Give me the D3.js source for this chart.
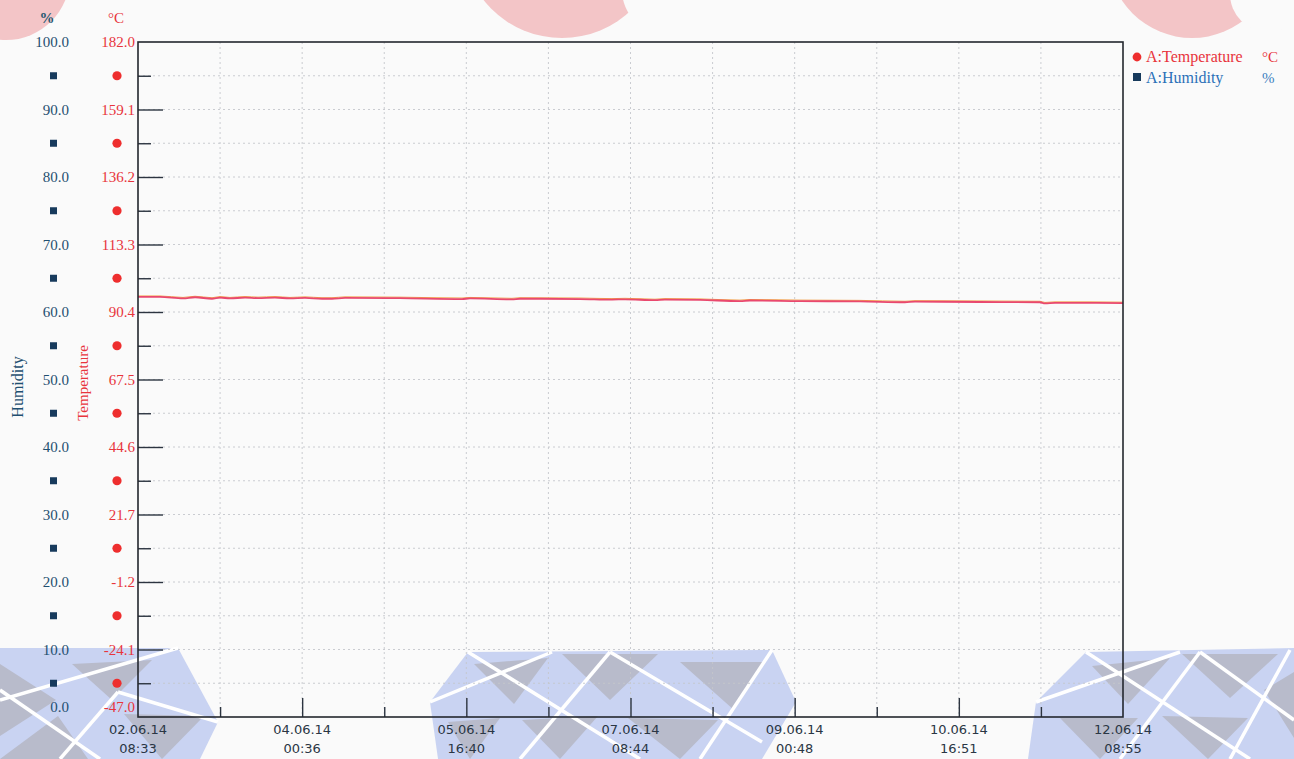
<!DOCTYPE html>
<html>
<head>
<meta charset="utf-8">
<script src="https://cdn.jsdelivr.net/npm/d3@7"></script>
<style>
  body { margin: 0; background: #fafafa; }
  svg { display: block; }
</style>
</head>
<body>
<svg id="chart" width="1294" height="759"></svg>
<script>
// logger readings (time, temperature in °C)
var times = [
	'2014-06-02 08:33', '2014-06-02 13:55', '2014-06-02 19:32', '2014-06-02 22:28',
	'2014-06-03 02:36', '2014-06-03 04:34', '2014-06-03 07:00', '2014-06-03 10:40',
	'2014-06-03 13:50', '2014-06-03 17:59', '2014-06-03 21:39', '2014-06-04 01:18',
	'2014-06-04 05:27', '2014-06-04 07:53', '2014-06-04 11:04', '2014-06-05 00:29',
	'2014-06-05 15:37', '2014-06-05 17:34', '2014-06-06 03:49', '2014-06-06 05:46',
	'2014-06-06 20:25', '2014-06-07 04:13', '2014-06-07 07:24', '2014-06-07 14:43',
	'2014-06-07 17:09', '2014-06-08 01:42', '2014-06-08 11:27', '2014-06-08 13:54',
	'2014-06-09 02:06', '2014-06-09 16:44', '2014-06-10 03:43', '2014-06-10 06:10',
	'2014-06-10 22:02', '2014-06-11 12:40', '2014-06-11 13:53', '2014-06-11 16:20',
	'2014-06-12 00:52', '2014-06-12 08:55'
];
var temperature = [
	95.5, 95.5, 95.0, 95.4, 94.9, 95.3, 95.0, 95.3,
	95.1, 95.3, 95.0, 95.2, 94.9, 94.9, 95.2, 95.1,
	94.8, 95.0, 94.7, 94.9, 94.8, 94.6, 94.7, 94.4,
	94.6, 94.5, 94.1, 94.3, 94.1, 94.0, 93.7, 93.9,
	93.8, 93.7, 93.3, 93.5, 93.5, 93.4
];
var time_start = '2014-06-02 08:33:00';
var time_end = '2014-06-12 08:55:30';
var hum_domain = [0, 100];
var temp_domain = [-47, 182];
var legend_items = [
	{ name: 'A:Temperature', unit: '°C' },
	{ name: 'A:Humidity', unit: '%' }
];

var plot = { left: 138, right: 1123, top: 42, bottom: 717 };
var parseTime = d3.timeParse('%Y-%m-%d %H:%M');
var parseFull = d3.timeParse('%Y-%m-%d %H:%M:%S');
var serif = '"Liberation Serif", "Times New Roman", serif';
var sans = '"DejaVu Sans", Verdana, sans-serif';
var hum_col = '#1f4f70', temp_col = '#e8343c';

var svg = d3.select('#chart');

// ---- scanned watermark in the background ----
var deco = svg.append('g').attr('class', 'watermark');
var pink = '#f3c5c7';
deco.append('circle').attr('cx', 6).attr('cy', -24).attr('r', 64).style('fill', pink);
deco.append('circle').attr('cx', 562).attr('cy', -62).attr('r', 100).style('fill', pink);
deco.append('circle').attr('cx', 666).attr('cy', -10).attr('r', 44).style('fill', '#fafafa');
deco.append('circle').attr('cx', 1192).attr('cy', -46).attr('r', 84).style('fill', pink);
deco.append('circle').attr('cx', 1268).attr('cy', -6).attr('r', 38).style('fill', '#fafafa');

var blue_polys = [
	[[0, 648], [178, 648], [218, 722], [200, 759], [0, 759]],
	[[430, 702], [468, 652], [772, 650], [796, 702], [762, 759], [438, 759]],
	[[1036, 702], [1086, 652], [1294, 648], [1294, 759], [1028, 759]]
];
var gray_polys = [
	[[0, 664], [56, 700], [0, 736]], [[72, 664], [152, 660], [112, 700]],
	[[124, 714], [204, 716], [162, 759]], [[0, 759], [58, 716], [88, 759]],
	[[474, 664], [548, 658], [514, 704]], [[562, 654], [658, 654], [610, 700]],
	[[680, 662], [764, 662], [734, 710]], [[448, 722], [500, 718], [470, 759]],
	[[522, 720], [598, 716], [560, 759]], [[628, 718], [718, 720], [680, 759]],
	[[1092, 666], [1170, 658], [1128, 704]], [[1182, 654], [1278, 654], [1230, 698]],
	[[1060, 718], [1138, 718], [1100, 759]], [[1162, 716], [1248, 718], [1208, 759]],
	[[1264, 690], [1294, 672], [1294, 738]]
];
var white_lines = [
	[[0, 700], [178, 648]], [[60, 759], [118, 692]], [[118, 692], [218, 722]],
	[[0, 690], [100, 759]], [[430, 702], [552, 652]], [[520, 759], [610, 652]],
	[[468, 652], [640, 759]], [[610, 652], [762, 742]], [[700, 759], [772, 650]],
	[[1036, 702], [1180, 652]], [[1120, 759], [1200, 652]], [[1086, 652], [1250, 759]],
	[[1200, 652], [1294, 720]], [[1230, 759], [1290, 650]]
];
deco.selectAll('.wm-blue').data(blue_polys).enter().append('polygon')
	.attr('class', 'wm-blue')
	.attr('points', d => d.join(' '))
	.style('fill', '#c9d3f2');
deco.selectAll('.wm-gray').data(gray_polys).enter().append('polygon')
	.attr('class', 'wm-gray')
	.attr('points', d => d.join(' '))
	.style('fill', '#b8bbcb');
deco.selectAll('.wm-line').data(white_lines).enter().append('line')
	.attr('class', 'wm-line')
	.attr('x1', d => d[0][0]).attr('y1', d => d[0][1])
	.attr('x2', d => d[1][0]).attr('y2', d => d[1][1])
	.style('stroke', '#ffffff').style('stroke-width', 3.5);

// ---- scales ----
var x = d3.scaleTime()
	.domain([parseFull(time_start), parseFull(time_end)])
	.range([plot.left, plot.right]);
var yHum = d3.scaleLinear().domain(hum_domain).range([plot.bottom, plot.top]);
var yTemp = d3.scaleLinear().domain(temp_domain).range([plot.bottom, plot.top]);

var t0 = x.domain()[0].getTime(), t1 = x.domain()[1].getTime();
var xTicks = d3.range(13).map(i => new Date(t0 + i * (t1 - t0) / 12));
var humMajor = d3.range(0, 101, 10);
var humMinor = d3.range(5, 100, 10);
var humAll = d3.range(5, 100, 5);
var tempMajor = humMajor.map(h => yTemp.invert(yHum(h)));

// ---- grid ----
var grid = svg.append('g').attr('class', 'grid');
grid.selectAll('.hgrid').data(humAll).enter().append('line')
	.attr('class', 'hgrid')
	.attr('x1', plot.left).attr('x2', plot.right)
	.attr('y1', d => yHum(d)).attr('y2', d => yHum(d))
	.style('stroke', '#c4c6cc').style('stroke-width', 0.9)
	.style('stroke-dasharray', '2,3');
grid.selectAll('.vgrid').data(xTicks.slice(1, -1)).enter().append('line')
	.attr('class', 'vgrid')
	.attr('x1', d => x(d)).attr('x2', d => x(d))
	.attr('y1', plot.top).attr('y2', plot.bottom)
	.style('stroke', '#c4c6cc').style('stroke-width', 0.9)
	.style('stroke-dasharray', '2,3');

// ---- inner ticks ----
var tickG = svg.append('g').attr('transform', 'translate(' + plot.left + ',0)');
tickG.call(d3.axisRight(yHum).tickValues(humMajor.slice(1, -1)).tickSize(25).tickFormat(''));
tickG.append('g').call(d3.axisRight(yHum).tickValues(humMinor).tickSize(13).tickFormat(''));
tickG.selectAll('.domain').remove();
tickG.selectAll('line').style('stroke', '#2c3440').style('stroke-width', 1.4);

var xTickG = svg.append('g').attr('transform', 'translate(0,' + plot.bottom + ')');
xTickG.call(d3.axisTop(x).tickValues(xTicks.filter((d, i) => i % 2 === 0 && i > 0 && i < 12)).tickSize(19).tickFormat(''));
xTickG.append('g').call(d3.axisTop(x).tickValues(xTicks.filter((d, i) => i % 2 === 1)).tickSize(10).tickFormat(''));
xTickG.selectAll('.domain').remove();
xTickG.selectAll('line').style('stroke', '#2c3440').style('stroke-width', 1.4);

// ---- series ----
var tempData = times.map((t, i) => ({ time: parseTime(t), value: temperature[i] }));
var line = d3.line().x(d => x(d.time)).y(d => yTemp(d.value)).curve(d3.curveMonotoneX);
svg.append('path')
	.datum(tempData)
	.attr('d', line)
	.style('fill', 'none')
	.style('stroke', '#f2a04a')
	.style('stroke-width', 1)
	.attr('transform', 'translate(0,-1)');
svg.append('path')
	.datum(tempData)
	.attr('d', line)
	.style('fill', 'none')
	.style('stroke', '#e9486e')
	.style('stroke-width', 1.8);

// ---- frame ----
svg.append('rect')
	.attr('x', plot.left).attr('y', plot.top)
	.attr('width', plot.right - plot.left).attr('height', plot.bottom - plot.top)
	.style('fill', 'none').style('stroke', '#23272e').style('stroke-width', 1.6);

// ---- left labels ----
var humAxis = svg.append('g').attr('transform', 'translate(' + plot.left + ',0)')
	.call(d3.axisLeft(yHum).tickValues(humMajor).tickSize(0).tickPadding(69).tickFormat(d => d.toFixed(1)));
var tempAxis = svg.append('g').attr('transform', 'translate(' + plot.left + ',0)')
	.call(d3.axisLeft(yTemp).tickValues(tempMajor).tickSize(0).tickPadding(3).tickFormat(d => d.toFixed(1)));
[humAxis, tempAxis].forEach(g => {
	g.select('.domain').remove();
	g.selectAll('text').style('font-family', serif).style('font-size', '15px');
	// bottom label sits above the frame
	g.selectAll('.tick').filter((d, i) => i === 0).select('text').attr('dy', '-0.4em');
});
humAxis.selectAll('text').style('fill', hum_col);
tempAxis.selectAll('text').style('fill', temp_col);

// marker column between the labels
svg.selectAll('.hum-mark').data(humMinor).enter().append('rect')
	.attr('class', 'hum-mark')
	.attr('x', 50).attr('y', d => yHum(d) - 3.5)
	.attr('width', 7).attr('height', 7)
	.style('fill', '#173a5c');
svg.selectAll('.temp-mark').data(humMinor).enter().append('circle')
	.attr('class', 'temp-mark')
	.attr('cx', 117).attr('cy', d => yHum(d))
	.attr('r', 4.6)
	.style('fill', '#ee2e2e');

// units and axis titles
svg.append('text').attr('x', 47).attr('y', 23).attr('text-anchor', 'middle')
	.style('font-family', serif).style('font-size', '15px').style('font-weight', 'bold')
	.style('fill', '#1f5870').text('%');
svg.append('text').attr('x', 116).attr('y', 23).attr('text-anchor', 'middle')
	.style('font-family', serif).style('font-size', '15px')
	.style('fill', temp_col).text('°C');
svg.append('text')
	.attr('transform', 'translate(23,387)rotate(-90)')
	.attr('text-anchor', 'middle')
	.style('font-family', serif).style('font-size', '16px')
	.style('fill', hum_col).text('Humidity');
svg.append('text')
	.attr('transform', 'translate(88,383)rotate(-90)')
	.attr('text-anchor', 'middle')
	.style('font-family', serif).style('font-size', '15px')
	.style('fill', temp_col).text('Temperature');

// ---- x labels ----
var fmtDate = d3.timeFormat('%d.%m.%y');
var fmtTime = d3.timeFormat('%H:%M');
var xLab = svg.selectAll('.xlab').data(xTicks.filter((d, i) => i % 2 === 0)).enter()
	.append('text')
	.attr('class', 'xlab')
	.attr('x', d => x(d))
	.attr('y', 734)
	.attr('text-anchor', 'middle')
	.style('font-family', sans).style('font-size', '13px')
	.style('fill', '#2a3644');
xLab.append('tspan').attr('x', d => x(d)).text(d => fmtDate(d));
xLab.append('tspan').attr('x', d => x(d)).attr('dy', 19).text(d => fmtTime(d));

// ---- legend ----
var legend = svg.append('g').attr('transform', 'translate(1137,57)');
legend.append('circle').attr('cx', 0).attr('cy', 0).attr('r', 4.4).style('fill', '#ee2e2e');
legend.append('rect').attr('x', -4).attr('y', 16).attr('width', 8).attr('height', 8).style('fill', '#173a5c');
legend.selectAll('.lname').data(legend_items).enter().append('text')
	.attr('class', 'lname')
	.attr('x', 9).attr('y', (d, i) => 5 + i * 21)
	.style('font-family', serif).style('font-size', '16px')
	.style('fill', (d, i) => i === 0 ? temp_col : '#2a70b8')
	.text(d => d.name);
legend.selectAll('.lunit').data(legend_items).enter().append('text')
	.attr('class', 'lunit')
	.attr('x', 125).attr('y', (d, i) => 5 + i * 21)
	.style('font-family', serif).style('font-size', '15px')
	.style('fill', (d, i) => i === 0 ? temp_col : '#3a80c0')
	.text(d => d.unit);
</script>
</body>
</html>
